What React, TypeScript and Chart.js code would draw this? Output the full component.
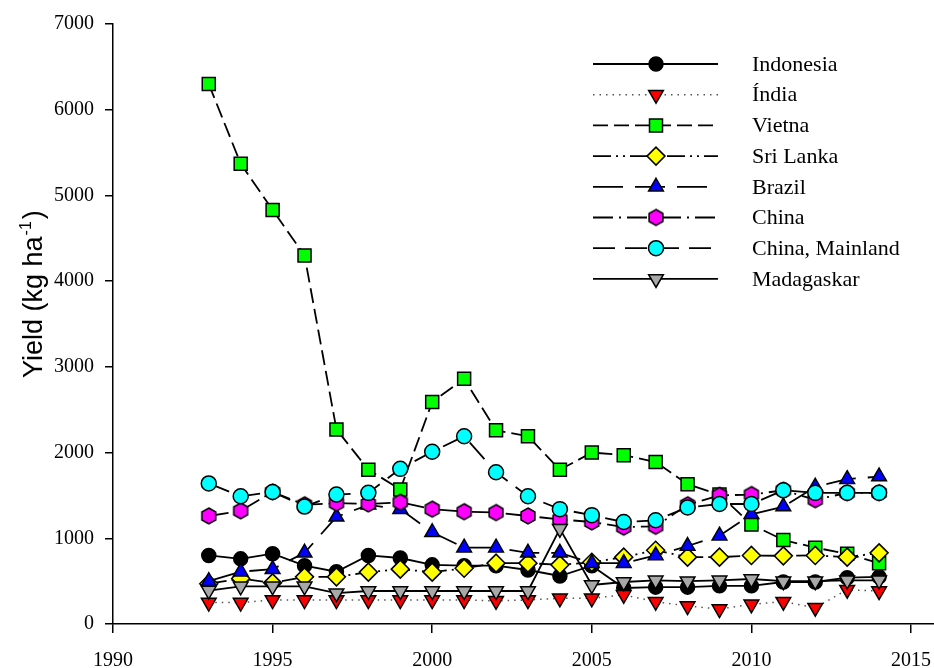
import React, { useEffect, useRef } from 'react';
import { Chart, registerables } from 'chart.js';

Chart.register(...registerables);

const years = [1993, 1994, 1995, 1996, 1997, 1998, 1999, 2000, 2001, 2002, 2003, 2004, 2005, 2006, 2007, 2008, 2009, 2010, 2011, 2012, 2013, 2014];

const indonesia = [800, 760, 820, 680, 610, 800, 770, 690, 680, 680, 630, 560, 680, 420, 430, 430, 445, 445, 490, 490, 540, 550];
const india = [250, 250, 280, 280, 280, 280, 280, 280, 280, 270, 280, 300, 300, 340, 260, 210, 175, 230, 260, 190, 400, 385];
const vietna = [6300, 5370, 4830, 4300, 2270, 1800, 1570, 2590, 2860, 2260, 2190, 1800, 2000, 1970, 1890, 1630, 1510, 1160, 980, 890, 820, 710];
const sriLanka = [470, 530, 480, 550, 550, 605, 640, 605, 650, 710, 710, 690, 720, 780, 860, 780, 780, 800, 795, 800, 780, 830];
const brazil = [500, 610, 640, 830, 1250, 1390, 1340, 1070, 890, 890, 830, 830, 710, 710, 800, 910, 1030, 1280, 1370, 1600, 1690, 1720];
const china = [1260, 1320, 1540, 1390, 1410, 1400, 1420, 1340, 1310, 1300, 1260, 1220, 1190, 1130, 1140, 1390, 1500, 1510, 1560, 1450, 1530, 1530];
const chinaMainland = [1640, 1490, 1540, 1370, 1510, 1530, 1810, 2010, 2190, 1770, 1490, 1340, 1270, 1190, 1210, 1360, 1400, 1400, 1560, 1530, 1530, 1530];
const madagaskar = [390, 440, 440, 440, 360, 385, 385, 385, 385, 385, 385, 1110, 455, 490, 510, 500, 510, 525, 500, 500, 510, 510];

const seriesNames = ['Indonesia', 'Índia', 'Vietna', 'Sri Lanka', 'Brazil', 'China', 'China, Mainland', 'Madagaskar'];
const seriesValues = [indonesia, india, vietna, sriLanka, brazil, china, chinaMainland, madagaskar];

const xTicks = [1990, 1995, 2000, 2005, 2010, 2015];
const yTicks = [0, 1000, 2000, 3000, 4000, 5000, 6000, 7000];

type Style = {
  fill: string;
  shape: 'circle' | 'triangle' | 'triangleDown' | 'rect' | 'rectRot' | 'hexagon';
  radius: number;
  dash: number[];
  lineColor: string;
  lineWidth: number;
};

const styles: Style[] = [
  { fill: '#000000', shape: 'circle', radius: 7, dash: [], lineColor: '#000', lineWidth: 1.8 },
  { fill: '#ff0000', shape: 'triangleDown', radius: 8.5, dash: [1.5, 5], lineColor: '#555', lineWidth: 1.5 },
  { fill: '#00ff00', shape: 'rect', radius: 9.2, dash: [15, 6], lineColor: '#000', lineWidth: 1.8 },
  { fill: '#ffff00', shape: 'rectRot', radius: 9, dash: [18, 5, 2, 5, 2, 5], lineColor: '#000', lineWidth: 1.8 },
  { fill: '#0000ff', shape: 'triangle', radius: 8.5, dash: [30, 12], lineColor: '#000', lineWidth: 1.8 },
  { fill: '#ff00ff', shape: 'hexagon', radius: 8, dash: [20, 6, 2, 6], lineColor: '#000', lineWidth: 1.8 },
  { fill: '#00ffff', shape: 'circle', radius: 7.5, dash: [22, 10], lineColor: '#000', lineWidth: 1.8 },
  { fill: '#a8a8a8', shape: 'triangleDown', radius: 8.5, dash: [], lineColor: '#000', lineWidth: 1.8 },
];

function makeHexagon(r: number, fill: string): HTMLCanvasElement {
  const s = Math.ceil(r * 2 + 4);
  const c = document.createElement('canvas');
  c.width = s;
  c.height = s;
  const ctx = c.getContext('2d')!;
  ctx.beginPath();
  for (let k = 0; k < 6; k++) {
    const a = -Math.PI / 2 + (k * Math.PI) / 3;
    const px = s / 2 + r * Math.cos(a);
    const py = s / 2 + r * Math.sin(a);
    if (k === 0) ctx.moveTo(px, py);
    else ctx.lineTo(px, py);
  }
  ctx.closePath();
  ctx.fillStyle = fill;
  ctx.fill();
  ctx.lineWidth = 1.5;
  ctx.strokeStyle = '#000';
  ctx.stroke();
  return c;
}

function drawMarker(ctx: CanvasRenderingContext2D, st: Style, x: number, y: number, hex: HTMLCanvasElement) {
  const r = st.radius;
  if (st.shape === 'hexagon') {
    ctx.drawImage(hex, x - hex.width / 2, y - hex.height / 2);
    return;
  }
  ctx.save();
  ctx.setLineDash([]);
  ctx.beginPath();
  if (st.shape === 'circle') {
    ctx.arc(x, y, r, 0, Math.PI * 2);
  } else if (st.shape === 'rect') {
    const h = Math.SQRT1_2 * r;
    ctx.rect(x - h, y - h, 2 * h, 2 * h);
  } else if (st.shape === 'rectRot') {
    ctx.moveTo(x - r, y);
    ctx.lineTo(x, y - r);
    ctx.lineTo(x + r, y);
    ctx.lineTo(x, y + r);
    ctx.closePath();
  } else {
    const sign = st.shape === 'triangle' ? 1 : -1;
    for (let k = 0; k < 3; k++) {
      const a = (k * 2 * Math.PI) / 3;
      const px = x + Math.sin(a) * r * sign;
      const py = y - Math.cos(a) * r * sign;
      if (k === 0) ctx.moveTo(px, py);
      else ctx.lineTo(px, py);
    }
    ctx.closePath();
  }
  ctx.fillStyle = st.fill;
  ctx.fill();
  ctx.lineWidth = 1.5;
  ctx.strokeStyle = '#000';
  ctx.stroke();
  ctx.restore();
}

export default function App() {
  const ref = useRef<HTMLCanvasElement | null>(null);

  useEffect(() => {
    if (!ref.current) return;
    const hexes = styles.map((st) => makeHexagon(st.radius, st.fill));

    const datasets = seriesNames.map((name, i) => {
      const st = styles[i];
      let pointStyle: any = st.shape;
      let rotation = 0;
      if (st.shape === 'triangleDown') {
        pointStyle = 'triangle';
        rotation = 180;
      }
      if (st.shape === 'hexagon') pointStyle = hexes[i];
      return {
        label: name,
        data: years.map((yr, j) => ({ x: yr, y: seriesValues[i][j] })),
        borderColor: st.lineColor,
        borderWidth: st.lineWidth,
        borderDash: st.dash,
        backgroundColor: st.fill,
        pointStyle,
        pointRotation: rotation,
        pointRadius: st.radius,
        pointBackgroundColor: st.fill,
        pointBorderColor: '#000',
        pointBorderWidth: 1.5,
        tension: 0,
        fill: false,
        order: seriesNames.length - i,
        clip: false as any,
      };
    });

    const legendPlugin = {
      id: 'customLegend',
      afterDraw(chart: any) {
        const ctx: CanvasRenderingContext2D = chart.ctx;
        ctx.save();
        seriesNames.forEach((name, i) => {
          const st = styles[i];
          const y = 64 + i * 30.7;
          ctx.beginPath();
          ctx.setLineDash(st.dash);
          ctx.lineWidth = st.lineWidth;
          ctx.strokeStyle = st.lineColor;
          ctx.moveTo(593, y);
          ctx.lineTo(718, y);
          ctx.stroke();
          ctx.setLineDash([]);
          drawMarker(ctx, st, 656, y, hexes[i]);
          ctx.fillStyle = '#000';
          ctx.font = '22px "Liberation Serif", "Times New Roman", serif';
          ctx.textBaseline = 'middle';
          ctx.textAlign = 'left';
          ctx.fillText(name, 752, y + 1);
        });
        ctx.restore();
      },
    };

    const titlePlugin = {
      id: 'yTitle',
      afterDraw(chart: any) {
        const ctx: CanvasRenderingContext2D = chart.ctx;
        ctx.save();
        ctx.translate(42, 378);
        ctx.rotate(-Math.PI / 2);
        ctx.fillStyle = '#000';
        ctx.textBaseline = 'alphabetic';
        ctx.textAlign = 'left';
        ctx.font = '27px "Liberation Sans", Arial, sans-serif';
        const main = 'Yield (kg ha';
        ctx.fillText(main, 0, 0);
        const w = ctx.measureText(main).width;
        ctx.font = '16px "Liberation Sans", Arial, sans-serif';
        const sup = '-1';
        ctx.fillText(sup, w + 1, -11);
        const w2 = ctx.measureText(sup).width;
        ctx.font = '27px "Liberation Sans", Arial, sans-serif';
        ctx.fillText(')', w + w2 + 3, 0);
        ctx.restore();
      },
    };

    const chart = new Chart(ref.current, {
      type: 'line',
      data: { datasets: datasets as any },
      options: {
        animation: false,
        responsive: false,
        maintainAspectRatio: false,
        layout: { autoPadding: false, padding: { top: 24, right: 0, left: 0, bottom: 0 } },
        plugins: { legend: { display: false }, tooltip: { enabled: false } },
        scales: {
          x: {
            type: 'linear',
            min: 1990,
            max: 2015.72,
            afterBuildTicks: (s: any) => {
              s.ticks = xTicks.map((v) => ({ value: v }));
            },
            afterFit: (s: any) => {
              s.height = 44;
              s.paddingLeft = 0;
              s.paddingRight = 0;
            },
            grid: { drawOnChartArea: false, drawTicks: true, tickLength: 9, color: '#000', lineWidth: 1.5 },
            border: { display: true, color: '#000', width: 1.5 },
            ticks: {
              color: '#000',
              font: { family: '"Liberation Serif", "Times New Roman", serif', size: 20 },
              padding: 16,
              maxRotation: 0,
              autoSkip: false,
              callback: (v: any) => String(v),
            },
          },
          y: {
            type: 'linear',
            min: 0,
            max: 7000,
            afterBuildTicks: (s: any) => {
              s.ticks = yTicks.map((v) => ({ value: v }));
            },
            afterFit: (s: any) => {
              s.width = 113;
              s.paddingTop = 0;
              s.paddingBottom = 0;
            },
            grid: { drawOnChartArea: false, drawTicks: true, tickLength: 8, color: '#000', lineWidth: 1.5 },
            border: { display: true, color: '#000', width: 1.5 },
            ticks: {
              color: '#000',
              font: { family: '"Liberation Serif", "Times New Roman", serif', size: 20 },
              padding: 11,
              autoSkip: false,
              callback: (v: any) => String(v),
            },
          },
        },
      },
      plugins: [legendPlugin, titlePlugin],
    });
    return () => chart.destroy();
  }, []);

  return (
    <div style={{ position: 'fixed', left: 0, top: 0, width: 934, height: 668, background: '#fff' }}>
      <canvas ref={ref} width={934} height={668} style={{ display: 'block', width: 934, height: 668 }} />
    </div>
  );
}
